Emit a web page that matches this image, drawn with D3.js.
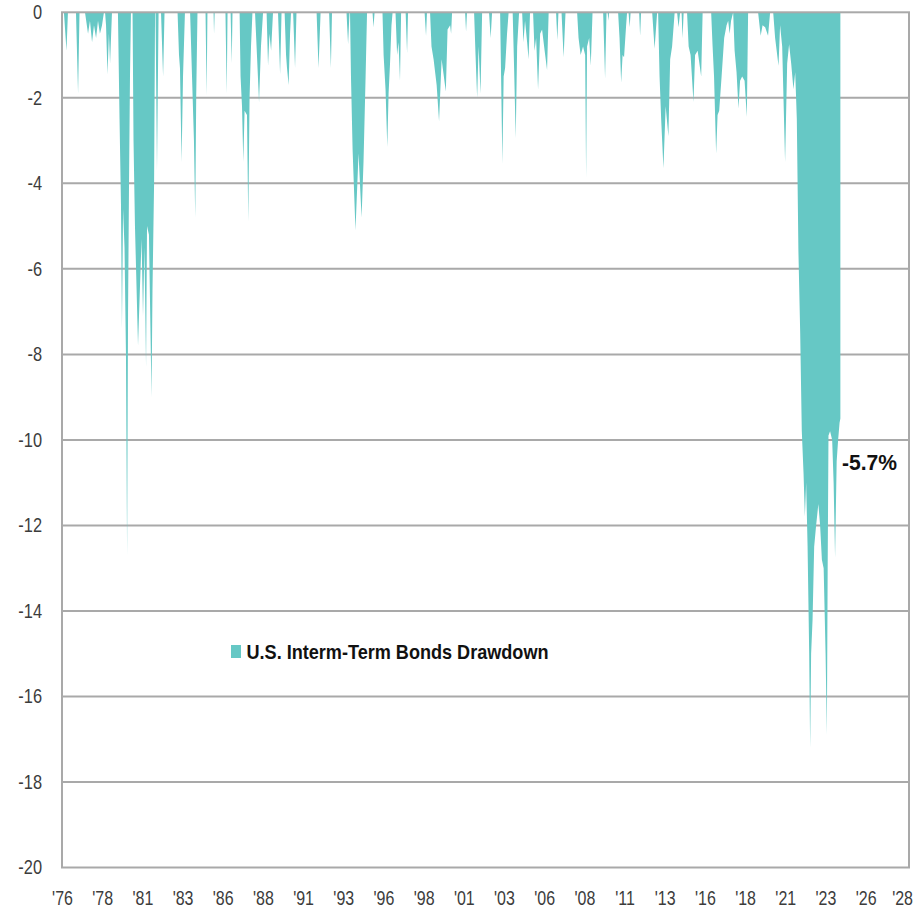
<!DOCTYPE html>
<html>
<head>
<meta charset="utf-8">
<script src="https://cdn.jsdelivr.net/npm/d3@7"></script>
<style>
  body { margin: 0; background: #fff; }
  svg { display: block; font-family: "Liberation Sans Narrow", "Arial Narrow", "Liberation Sans", sans-serif; }
</style>
</head>
<body>
<svg class="dd" width="914" height="909"></svg>
<script>
// drawdown, % from prior peak, [decimal year, value]
const dd1970s = [
  [1976.12, 0], [1976.28, -0.9], [1976.37, 0],
  [1976.87, 0], [1977.00, -1.9], [1977.09, 0],
  [1977.43, 0], [1977.62, -0.5], [1977.74, -0.2], [1977.87, -0.7], [1977.99, -0.3],
  [1978.12, -0.6], [1978.24, -0.2], [1978.36, -0.5], [1978.49, -0.3], [1978.61, 0],
  [1978.68, 0], [1978.74, -0.3], [1978.83, -1.45], [1978.92, -0.5], [1978.99, -1.2], [1979.11, 0],
  [1979.48, 0], [1979.58, -2.5], [1979.67, -4.5], [1979.73, -7.4], [1979.80, -4.6], [1979.89, -5.5],
  [1979.98, -8], [1980.05, -12.7], [1980.11, -7], [1980.17, -4], [1980.23, -1.5], [1980.29, 0]
];
const dd1980s = [
  [1980.39, 0], [1980.45, -3], [1980.54, -5], [1980.73, -7.8], [1980.95, -5.3], [1981.04, -7.1],
  [1981.13, -5.5], [1981.23, -8.3], [1981.29, -5.0], [1981.41, -5.2], [1981.57, -9.0], [1981.63, -6.5],
  [1981.73, -4], [1981.79, 0],
  [1981.82, 0], [1981.91, -3.7], [1982.01, 0],
  [1982.16, 0], [1982.29, -1.5], [1982.38, 0],
  [1983.19, 0], [1983.28, -1.0], [1983.34, -1.3], [1983.44, -3.5], [1983.53, -1.5], [1983.65, 0],
  [1983.97, 0], [1984.09, -1.5], [1984.21, -3], [1984.29, -4.8], [1984.35, -2], [1984.43, 0],
  [1984.93, 0], [1985.00, -1.95], [1985.05, 0],
  [1985.43, 0], [1985.46, -0.5], [1985.50, 0],
  [1986.17, 0], [1986.25, -1.9], [1986.30, 0],
  [1986.49, 0], [1986.56, -1.2], [1986.61, 0],
  [1987.05, 0], [1987.11, -1.5], [1987.20, -2.2], [1987.28, -3.5], [1987.36, -2.3], [1987.51, -2.4],
  [1987.59, -4.9], [1987.67, -2], [1987.76, -0.8], [1987.85, 0],
  [1988.01, 0], [1988.13, -1.0], [1988.26, -2.1], [1988.38, -0.8], [1988.51, 0],
  [1988.73, 0], [1988.82, -1.25], [1988.91, -0.5], [1989.01, -0.9], [1989.13, 0],
  [1989.44, 0], [1989.57, -1.45], [1989.66, 0],
  [1989.85, 0], [1989.94, -1.0], [1990.00, -1.3], [1990.10, -1.7], [1990.19, -0.5], [1990.25, 0]
];
const dd1990s = [
  [1990.38, 0], [1990.50, -1.3], [1990.59, 0],
  [1991.84, 0], [1991.96, -1.3], [1992.09, 0],
  [1992.62, 0], [1992.73, -1.3], [1992.80, 0],
  [1993.70, 0], [1993.80, -0.75], [1993.89, 0],
  [1993.92, 0], [1993.98, -1.5], [1994.08, -3.2], [1994.26, -5.1], [1994.45, -3.3], [1994.64, -4.8],
  [1994.76, -3.5], [1994.89, -1.5], [1994.98, 0],
  [1995.32, 0], [1995.38, -0.35], [1995.45, 0],
  [1995.94, 0], [1996.01, -1.0], [1996.13, -1.8], [1996.24, -3.15], [1996.32, -1.9], [1996.41, -1.2],
  [1996.50, -0.3], [1996.57, 0],
  [1996.75, 0], [1996.85, -1.0], [1996.94, -0.7], [1997.03, -1.6], [1997.10, 0],
  [1997.38, 0], [1997.47, -0.95], [1997.53, 0],
  [1998.56, 0], [1998.65, -0.55], [1998.71, 0],
  [1998.90, 0], [1998.99, -0.8], [1999.12, -1.1], [1999.31, -1.7], [1999.46, -2.55], [1999.62, -1.1],
  [1999.88, -1.85], [1999.99, -0.4], [2000.15, -0.3], [2000.21, -0.5], [2000.27, 0]
];
const dd2000s = [
  [2001.08, 0], [2001.14, -0.45], [2001.20, 0],
  [2001.64, 0], [2001.73, -1.0], [2001.83, -2.0], [2001.92, -0.8], [2002.04, -1.9], [2002.14, 0],
  [2002.57, 0], [2002.67, -0.6], [2002.76, 0],
  [2003.26, 0], [2003.32, -1.5], [2003.40, -3.55], [2003.48, -1.5], [2003.57, -1.3], [2003.69, -0.5], [2003.79, 0],
  [2004.04, 0], [2004.13, -1.3], [2004.23, -2.95], [2004.32, -0.8], [2004.44, 0],
  [2004.63, 0], [2004.71, -0.7], [2004.81, -0.2], [2004.94, -0.7], [2005.03, -1.1], [2005.12, 0],
  [2005.31, 0], [2005.40, -0.9], [2005.50, -0.6], [2005.62, -1.8], [2005.75, -0.5], [2005.87, -0.4],
  [2006.03, -0.9], [2006.18, -1.35], [2006.28, 0],
  [2006.74, 0], [2006.82, -0.65], [2006.89, 0],
  [2007.08, 0], [2007.21, -1.05], [2007.33, 0],
  [2008.05, 0], [2008.14, -0.6], [2008.27, -1.0], [2008.42, -0.8], [2008.55, -1.0], [2008.61, -3.85],
  [2008.67, -0.8], [2008.80, -0.6], [2008.90, -1.25], [2009.01, 0],
  [2009.67, 0], [2009.79, -1.55], [2009.88, 0],
  [2009.95, 0], [2010.00, -0.2], [2010.04, 0]
];
const dd2010s = [
  [2010.60, 0], [2010.69, -0.6], [2010.79, -1.65], [2010.88, -1.0], [2010.97, -1.05], [2011.10, -0.3], [2011.16, 0],
  [2011.25, 0], [2011.32, -0.35], [2011.38, 0],
  [2011.91, 0], [2011.97, -0.55], [2012.03, 0],
  [2012.72, 0], [2012.87, -0.85], [2013.03, 0],
  [2013.09, 0], [2013.18, -1.5], [2013.28, -2.5], [2013.42, -3.65], [2013.56, -2.2], [2013.73, -2.9],
  [2013.84, -1.1], [2013.96, -0.8], [2014.12, 0],
  [2014.27, 0], [2014.36, -0.35], [2014.46, 0],
  [2014.55, 0], [2014.61, -0.6], [2014.68, 0],
  [2014.89, 0], [2014.99, -0.8], [2015.11, -1.0], [2015.29, -2.1], [2015.39, -1.0], [2015.55, -0.9],
  [2015.77, -1.5], [2015.86, 0],
  [2016.39, 0], [2016.48, -0.8], [2016.57, -1.5], [2016.70, -3.3], [2016.79, -2.4], [2016.89, -2.3],
  [2017.04, -1.5], [2017.20, -0.6], [2017.35, -0.3], [2017.45, -0.2], [2017.54, -0.5], [2017.63, -0.2], [2017.76, 0],
  [2017.85, -0.9], [2017.97, -1.4], [2018.09, -2.25], [2018.19, -1.6], [2018.32, -1.5], [2018.47, -1.6],
  [2018.61, -2.45], [2018.69, 0],
  [2019.31, 0], [2019.47, -0.55], [2019.59, -0.3], [2019.75, -0.35], [2019.93, -0.55], [2020.06, 0]
];
const dd2020s = [
  [2020.25, 0], [2020.37, -0.6], [2020.58, -1.25], [2020.68, -0.3], [2020.81, -0.8], [2020.99, -3.5],
  [2021.12, -1.2], [2021.24, -0.75], [2021.37, -1.2], [2021.51, -1.8], [2021.62, -1.4], [2021.72, -2.5],
  [2021.82, -5.6], [2021.93, -7.5], [2022.03, -9.8], [2022.14, -10.8], [2022.22, -11.8], [2022.30, -11],
  [2022.39, -12.5], [2022.49, -15], [2022.55, -17.2], [2022.61, -15], [2022.70, -14.2], [2022.80, -12.5],
  [2022.92, -12], [2023.06, -11.5], [2023.17, -12], [2023.28, -12.8], [2023.39, -13], [2023.51, -15],
  [2023.59, -16.9], [2023.64, -13], [2023.69, -9.9], [2023.79, -9.8], [2023.92, -10], [2024.01, -11],
  [2024.10, -12.75], [2024.20, -10.5], [2024.29, -10], [2024.38, -9.6], [2024.43, -9.5]
];
const drawdown = [].concat(dd1970s, dd1980s, dd1990s, dd2000s, dd2010s, dd2020s);

const yTicks = [0, -2, -4, -6, -8, -10, -12, -14, -16, -18, -20];
const xTickYears = [1976, 1978.5, 1981, 1983.5, 1986, 1988.5, 1991, 1993.5, 1996, 1998.5, 2001,
  2003.5, 2006, 2008.5, 2011, 2013.5, 2016, 2018.5, 2021, 2023.5, 2026, 2028.5];
const xTickLabels = ["'76", "'78", "'81", "'83", "'86", "'88", "'91", "'93", "'96", "'98", "'01",
  "'03", "'06", "'08", "'11", "'13", "'16", "'18", "'21", "'23", "'26", "'28"];
const seriesName = "U.S. Interm-Term Bonds Drawdown";
const lastLabel = "-5.7%";

(function drawdownIIFE() {
    const svg = d3.select("svg.dd");
    const plotLeft = 62, plotRight = 909, plotTop = 12.3, plotBottom = 867.5;
    const gridColor = "#a9a9a9";
    const fillColor = "#66c8c5";
    const narrow = 0.82; // no condensed font installed, squeeze horizontally

    const x = d3.scaleLinear().domain([1976, 2028.7]).range([plotLeft, plotRight]);
    const y = d3.scaleLinear().domain([-20, 0]).range([plotBottom, plotTop]);

    // gridlines under the fill
    svg.append("g")
        .selectAll("line")
        .data(yTicks.filter(d => d !== 0 && d !== -20))
        .enter()
        .append("line")
        .attr("x1", plotLeft)
        .attr("x2", plotRight)
        .attr("y1", d => y(d))
        .attr("y2", d => y(d))
        .attr("stroke", gridColor)
        .attr("stroke-width", 2);

    const area = d3.area()
        .x(d => x(d[0]))
        .y0(y(0))
        .y1(d => y(d[1]));

    svg.append("path")
        .datum(drawdown)
        .attr("fill", fillColor)
        .attr("d", area);

    // frame: zero line, left axis, bottom, right edge
    svg.append("rect")
        .attr("x", plotLeft)
        .attr("y", plotTop)
        .attr("width", plotRight - plotLeft)
        .attr("height", plotBottom - plotTop)
        .attr("fill", "none")
        .attr("stroke", gridColor)
        .attr("stroke-width", 2);

    const yAxis = svg.append("g")
        .attr("transform", "translate(" + plotLeft + ",0)")
        .call(d3.axisLeft(y).tickValues(yTicks).tickSize(0).tickPadding(20)
            .tickFormat(d => String(d)));
    yAxis.select(".domain").remove();
    yAxis.attr("font-family", null).attr("font-size", 20);
    yAxis.selectAll("text")
        .attr("fill", "#3c3c3c")
        .attr("x", -20 / narrow)
        .attr("transform", "scale(" + narrow + ",1)");

    const xAxis = svg.append("g")
        .attr("transform", "translate(0," + plotBottom + ")")
        .call(d3.axisBottom(x).tickValues(xTickYears).tickSize(0).tickPadding(24)
            .tickFormat((d, i) => xTickLabels[i]));
    xAxis.select(".domain").remove();
    xAxis.attr("font-family", null).attr("font-size", 19.5);
    xAxis.selectAll("text")
        .attr("fill", "#3c3c3c")
        .attr("transform", "scale(" + narrow + ",1)");
    // last label sits against the page edge, keep it inside
    xAxis.selectAll("text")
        .filter((d, i) => i === xTickYears.length - 1)
        .attr("text-anchor", "end")
        .attr("x", (912.5 - x(2028.5)) / narrow);

    // legend
    svg.append("rect")
        .attr("x", 231)
        .attr("y", 645)
        .attr("width", 10)
        .attr("height", 13)
        .attr("fill", fillColor);
    svg.append("text")
        .attr("x", 246.5)
        .attr("y", 658.5)
        .attr("font-size", 21)
        .attr("font-weight", "bold")
        .attr("fill", "#111")
        .attr("textLength", 302)
        .attr("lengthAdjust", "spacingAndGlyphs")
        .text(seriesName);

    svg.append("text")
        .attr("x", 842)
        .attr("y", 470)
        .attr("font-size", 21.5)
        .attr("font-weight", "bold")
        .attr("fill", "#111")
        .attr("textLength", 55)
        .attr("lengthAdjust", "spacingAndGlyphs")
        .text(lastLabel);
})();
</script>
</body>
</html>
